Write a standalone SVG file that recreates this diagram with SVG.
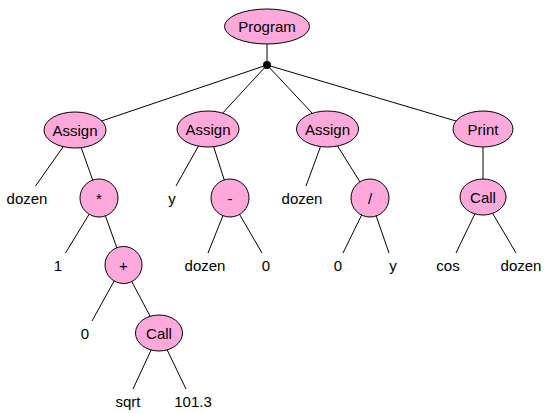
<svg xmlns="http://www.w3.org/2000/svg" width="552" height="413" viewBox="0 0 552 413">
<style>
.n{fill:#fdaadb;stroke:#000;stroke-width:1}
text{font-family:"Liberation Sans",Arial,sans-serif;font-size:15px;text-anchor:middle;dominant-baseline:central;fill:#000}
#edges line{stroke:#000;stroke-width:1}
</style>
<rect width="552" height="413" fill="#fff"/>
<g id="edges">
<line x1="267" y1="44" x2="267" y2="65"/>
<line x1="267" y1="65" x2="75" y2="130"/>
<line x1="267" y1="65" x2="208" y2="129"/>
<line x1="267" y1="65" x2="327" y2="129"/>
<line x1="267" y1="65" x2="483" y2="129"/>
<line x1="75" y1="130" x2="35.5" y2="186"/>
<line x1="75" y1="130" x2="99" y2="198"/>
<line x1="99" y1="198" x2="65.5" y2="253"/>
<line x1="99" y1="198" x2="123" y2="265"/>
<line x1="123" y1="265" x2="92" y2="321"/>
<line x1="123" y1="265" x2="159" y2="333"/>
<line x1="159" y1="333" x2="133" y2="389"/>
<line x1="159" y1="333" x2="186" y2="389"/>
<line x1="208" y1="129" x2="176" y2="186"/>
<line x1="208" y1="129" x2="230" y2="198"/>
<line x1="230" y1="198" x2="208" y2="253"/>
<line x1="230" y1="198" x2="262" y2="253"/>
<line x1="327" y1="129" x2="306" y2="186"/>
<line x1="327" y1="129" x2="370" y2="198"/>
<line x1="370" y1="198" x2="343" y2="253"/>
<line x1="370" y1="198" x2="389" y2="253"/>
<line x1="483" y1="129" x2="483" y2="197"/>
<line x1="483" y1="197" x2="456" y2="253"/>
<line x1="483" y1="197" x2="516" y2="253"/>
<circle cx="267" cy="65" r="4" fill="#000"/>
</g>
<g id="program"><ellipse class="n" cx="267" cy="26.5" rx="42.5" ry="17.5"/><text x="267" y="26.5">Program</text></g>
<g id="assign1"><ellipse class="n" cx="75" cy="130" rx="31" ry="18"/><text x="75" y="130">Assign</text></g>
<g id="dozen1"><text x="27" y="198">dozen</text></g>
<g id="mul"><circle class="n" cx="99" cy="198" r="19"/><text x="99" y="198">*</text></g>
<g id="one"><text x="58" y="265">1</text></g>
<g id="plus"><circle class="n" cx="123.5" cy="265" r="18.5"/><text x="123.5" y="265">+</text></g>
<g id="zero1"><text x="85" y="333">0</text></g>
<g id="call1"><ellipse class="n" cx="159" cy="333" rx="23.5" ry="18"/><text x="159" y="333">Call</text></g>
<g id="sqrt"><text x="128" y="401">sqrt</text></g>
<g id="num"><text x="193" y="401">101.3</text></g>
<g id="assign2"><ellipse class="n" cx="208" cy="129" rx="31" ry="18"/><text x="208" y="129">Assign</text></g>
<g id="y1"><text x="172" y="198">y</text></g>
<g id="minus"><circle class="n" cx="230" cy="198" r="19"/><text x="230" y="198">-</text></g>
<g id="dozen2"><text x="205" y="265">dozen</text></g>
<g id="zero2"><text x="266" y="265">0</text></g>
<g id="assign3"><ellipse class="n" cx="327.5" cy="129" rx="31" ry="18"/><text x="327.5" y="129">Assign</text></g>
<g id="dozen3"><text x="302" y="198">dozen</text></g>
<g id="div"><circle class="n" cx="370" cy="198" r="19"/><text x="370" y="198">/</text></g>
<g id="zero3"><text x="338" y="265">0</text></g>
<g id="y2"><text x="393" y="265">y</text></g>
<g id="print"><ellipse class="n" cx="483" cy="129" rx="30" ry="18"/><text x="483" y="129">Print</text></g>
<g id="call2"><ellipse class="n" cx="483" cy="197" rx="23" ry="18"/><text x="483" y="197">Call</text></g>
<g id="cos"><text x="448" y="265">cos</text></g>
<g id="dozen4"><text x="521" y="265">dozen</text></g>
</svg>
